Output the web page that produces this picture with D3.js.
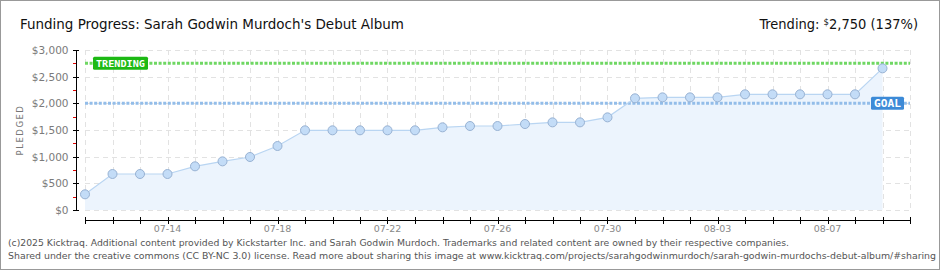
<!DOCTYPE html>
<html>
<head>
<meta charset="utf-8">
<script src="https://cdn.jsdelivr.net/npm/d3@7"></script>
<style>
  body { margin: 0; background: #fff; }
  svg { display: block; }
</style>
</head>
<body>
<div id="chart"></div>
<script>
// pledged totals per day
var days = ["07-11", "07-12", "07-13", "07-14", "07-15", "07-16", "07-17", "07-18", "07-19", "07-20",
            "07-21", "07-22", "07-23", "07-24", "07-25", "07-26", "07-27", "07-28", "07-29", "07-30",
            "07-31", "08-01", "08-02", "08-03", "08-04", "08-05", "08-06", "08-07", "08-08", "08-09"];
var pledged = [294, 675, 675, 675, 819, 912, 994, 1200, 1494, 1494,
               1494, 1494, 1494, 1550, 1575, 1575, 1612, 1643, 1643, 1737,
               2094, 2112, 2112, 2112, 2169, 2169, 2169, 2169, 2169, 2656];
var axisStart = "07-11", axisEnd = "08-10";
var xLabels = ["07-14", "07-18", "07-22", "07-26", "07-30", "08-03", "08-07"];
var yTicks = [0, 500, 1000, 1500, 2000, 2500, 3000];
var goal = 2000, trending = 2750;
var titleText = "Funding Progress: Sarah Godwin Murdoch's Debut Album";
var footer = [
  "(c)2025 Kicktraq. Additional content provided by Kickstarter Inc. and Sarah Godwin Murdoch. Trademarks and related content are owned by their respective companies.",
  "Shared under the creative commons (CC BY-NC 3.0) license. Read more about sharing this image at www.kicktraq.com/projects/sarahgodwinmurdoch/sarah-godwin-murdochs-debut-album/#sharing"
];

var W = 940, H = 270;
var parse = d3.timeParse("%Y-%m-%d");
function toDate(s) { return parse("2025-" + s); }

var svg = d3.select("#chart").append("svg")
    .attr("width", W)
    .attr("height", H);

svg.append("rect")
    .attr("x", 0.5).attr("y", 0.5)
    .attr("width", W - 1).attr("height", H - 1)
    .attr("fill", "#fff")
    .attr("stroke", "#999");

var x = d3.scaleTime()
    .domain([toDate(axisStart), toDate(axisEnd)])
    .range([85, 910]);
var y = d3.scaleLinear()
    .domain([0, 3000])
    .range([210, 50]);

var allDays = d3.timeDay.range(toDate(axisStart), d3.timeDay.offset(toDate(axisEnd), 1));

// grid
var grid = svg.append("g")
    .attr("stroke", "#e2e2e2")
    .attr("stroke-dasharray", "5,4")
    .attr("shape-rendering", "crispEdges");
grid.selectAll(".vg")
    .data(allDays)
    .enter().append("line")
    .attr("x1", function (d) { return Math.round(x(d)) + 0.5; })
    .attr("x2", function (d) { return Math.round(x(d)) + 0.5; })
    .attr("y1", y(3000)).attr("y2", y(0));
grid.selectAll(".hg")
    .data(yTicks)
    .enter().append("line")
    .attr("x1", x.range()[0]).attr("x2", x.range()[1])
    .attr("y1", function (d) { return Math.round(y(d)) + 0.5; })
    .attr("y2", function (d) { return Math.round(y(d)) + 0.5; });

// area + line
var pts = days.map(function (d, i) { return { date: toDate(d), value: pledged[i] }; });

svg.append("path")
    .datum(pts)
    .attr("fill", "#ecf4fd")
    .attr("d", d3.area()
        .x(function (d) { return x(d.date); })
        .y0(y(0))
        .y1(function (d) { return y(d.value); }));

// goal and trending lines
svg.append("line")
    .attr("x1", x.range()[0]).attr("x2", x.range()[1])
    .attr("y1", y(goal)).attr("y2", y(goal))
    .attr("stroke", "#93bde9")
    .attr("stroke-width", 3)
    .attr("stroke-dasharray", "3,1.6");
svg.append("line")
    .attr("x1", x.range()[0]).attr("x2", x.range()[1])
    .attr("y1", y(trending)).attr("y2", y(trending))
    .attr("stroke", "#6fd763")
    .attr("stroke-width", 3)
    .attr("stroke-dasharray", "3,1.6");

svg.append("path")
    .datum(pts)
    .attr("fill", "none")
    .attr("stroke", "#b9d5f2")
    .attr("stroke-width", 1.2)
    .attr("d", d3.line()
        .x(function (d) { return x(d.date); })
        .y(function (d) { return y(d.value); }));

svg.selectAll(".pt")
    .data(pts)
    .enter().append("circle")
    .attr("cx", function (d) { return x(d.date); })
    .attr("cy", function (d) { return y(d.value); })
    .attr("r", 4.5)
    .attr("fill", "#c3dcf7")
    .attr("stroke", "#98b2d3")
    .attr("stroke-width", 1);

// labels on lines
function tag(x0, yc, w, label, color) {
    svg.append("rect")
        .attr("x", x0).attr("y", yc - 6.5)
        .attr("width", w).attr("height", 13)
        .attr("rx", 1.5)
        .attr("fill", color);
    svg.append("text")
        .attr("x", x0 + 3).attr("y", yc + 4)
        .attr("fill", "#fff")
        .attr("font-family", "DejaVu Sans Mono, monospace")
        .attr("font-size", label.length > 4 ? 9.5 : 11)
        .attr("font-weight", "bold")
        .attr("textLength", w - 6)
        .attr("lengthAdjust", "spacingAndGlyphs")
        .text(label);
}
tag(93, y(trending), 55, "TRENDING", "#1db914");
tag(871, y(goal), 33, "GOAL", "#3c8ad7");

// y axis
svg.append("line")
    .attr("x1", 76.5).attr("x2", 76.5)
    .attr("y1", y(3000)).attr("y2", y(0) + 1)
    .attr("stroke", "#000");
svg.selectAll(".ytk")
    .data(yTicks)
    .enter().append("line")
    .attr("x1", 73).attr("x2", 79)
    .attr("y1", function (d) { return Math.round(y(d)) + 0.5; })
    .attr("y2", function (d) { return Math.round(y(d)) + 0.5; })
    .attr("stroke", "#000");
svg.selectAll(".ymin")
    .data(yTicks.slice(0, -1).map(function (d) { return d + 250; }))
    .enter().append("line")
    .attr("x1", 73).attr("x2", 76)
    .attr("y1", function (d) { return Math.round(y(d)) + 0.5; })
    .attr("y2", function (d) { return Math.round(y(d)) + 0.5; })
    .attr("stroke", "#e00000");
svg.selectAll(".ylab")
    .data(yTicks)
    .enter().append("text")
    .attr("x", 68.5)
    .attr("y", function (d) { return y(d) + 4; })
    .attr("text-anchor", "end")
    .attr("font-family", "DejaVu Sans, sans-serif")
    .attr("font-size", 10.5)
    .attr("fill", "#7a7a7a")
    .text(function (d) { return "$" + d3.format(",")(d); });

svg.append("text")
    .attr("transform", "translate(23,130) rotate(-90)")
    .attr("text-anchor", "middle")
    .attr("font-family", "DejaVu Sans, sans-serif")
    .attr("font-size", 8.5)
    .attr("letter-spacing", 1.5)
    .attr("fill", "#777")
    .text("PLEDGED");

// x axis
svg.append("line")
    .attr("x1", x.range()[0]).attr("x2", x.range()[1] + 1)
    .attr("y1", 220.5).attr("y2", 220.5)
    .attr("stroke", "#000");
svg.selectAll(".xtk")
    .data(allDays)
    .enter().append("line")
    .attr("x1", function (d) { return Math.round(x(d)) + 0.5; })
    .attr("x2", function (d) { return Math.round(x(d)) + 0.5; })
    .attr("y1", 217).attr("y2", 224)
    .attr("stroke", "#000");
svg.selectAll(".xlab")
    .data(xLabels)
    .enter().append("text")
    .attr("x", function (d) { return x(toDate(d)); })
    .attr("y", 232)
    .attr("text-anchor", "middle")
    .attr("font-family", "DejaVu Sans, sans-serif")
    .attr("font-size", 9.5)
    .attr("fill", "#888")
    .text(function (d) { return d; });

// title
svg.append("text")
    .attr("x", 20).attr("y", 29)
    .attr("font-family", "DejaVu Sans Condensed, DejaVu Sans, sans-serif")
    .attr("font-stretch", "condensed")
    .attr("font-size", 14.5)
    .attr("fill", "#111")
    .attr("textLength", 384)
    .attr("lengthAdjust", "spacingAndGlyphs")
    .text(titleText);

var tr = svg.append("text")
    .attr("x", 918).attr("y", 29)
    .attr("text-anchor", "end")
    .attr("font-family", "DejaVu Sans Condensed, DejaVu Sans, sans-serif")
    .attr("font-stretch", "condensed")
    .attr("font-size", 14.5)
    .attr("fill", "#111");
tr.append("tspan").text("Trending:  ");
tr.append("tspan").attr("font-size", 9.5).attr("dy", -4).text("$");
tr.append("tspan").attr("dy", 4).text(d3.format(",")(trending) + " (" + Math.floor(trending / goal * 100) + "%)");

// footer
svg.selectAll(".foot")
    .data(footer)
    .enter().append("text")
    .attr("x", 8)
    .attr("y", function (d, i) { return 246 + i * 13; })
    .attr("font-family", "DejaVu Sans Condensed, DejaVu Sans, sans-serif")
    .attr("font-stretch", "condensed")
    .attr("font-size", 9.5)
    .attr("fill", "#555")
    .attr("textLength", function (d, i) { return i === 0 ? 781 : 928; })
    .attr("lengthAdjust", "spacingAndGlyphs")
    .text(function (d) { return d; });
</script>
</body>
</html>
